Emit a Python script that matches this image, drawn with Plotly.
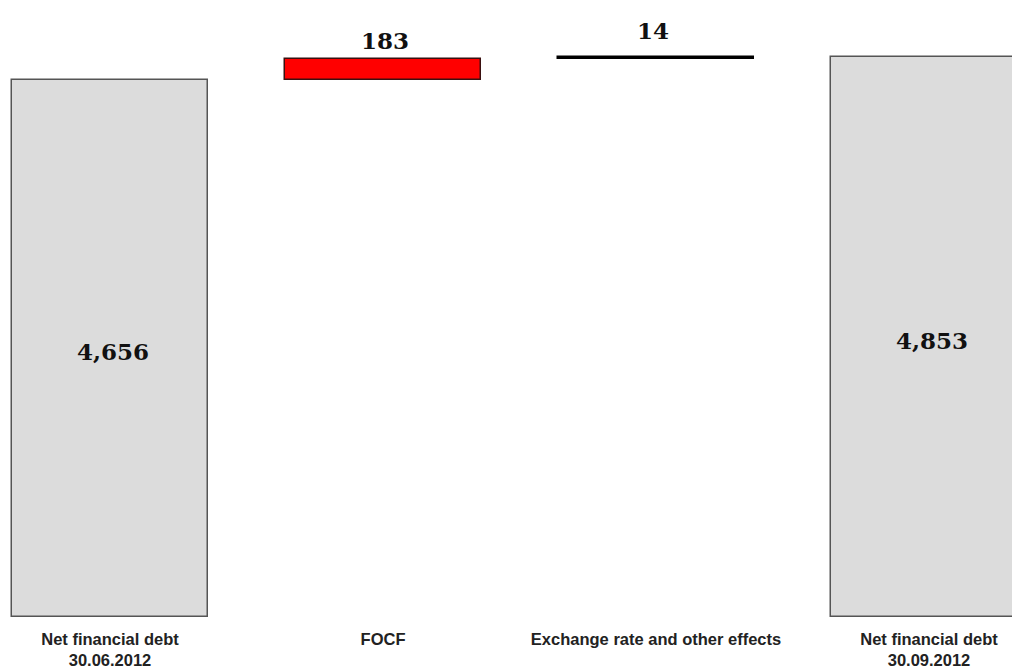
import plotly.graph_objects as go

# Net financial debt bridge (EUR m)
categories = ["Net financial debt<br>30.06.2012", "FOCF",
              "Exchange rate and other effects", "Net financial debt<br>30.09.2012"]
values = [4656, 183, 14, 4853]
labels = ["4,656", "183", "14", "4,853"]
kinds = ["total", "delta", "delta", "total"]

fill_colors = ["#dcdcdc", "#ff0000", "#000000", "#dcdcdc"]
line_colors = ["#555555", "#3a1010", "#000000", "#555555"]

# floating bases: totals start at zero, deltas sit on the running sum
bases = []
running = 0
for v, k in zip(values, kinds):
    if k == "total":
        bases.append(0)
        running = v
    else:
        bases.append(running)
        running += v

x = list(range(len(categories)))

fig = go.Figure()
fig.add_trace(go.Bar(
    x=x, y=values, base=bases, width=0.718,
    marker=dict(color=fill_colors, line=dict(color=line_colors, width=1.5)),
    hoverinfo="skip", showlegend=False,
))

value_font = dict(family="DejaVu Serif", size=23, color="#111111", weight="bold")
shifts = [0, 3, 11, 0]
for i, (v, b, k, t) in enumerate(zip(values, bases, kinds, labels)):
    if k == "total":
        fig.add_annotation(x=x[i], y=b + v / 2, text=t, showarrow=False,
                           font=value_font, yshift=-3, xshift=3)
    else:
        fig.add_annotation(x=x[i], y=b + v, text=t, showarrow=False,
                           font=value_font, yanchor="bottom", yshift=shifts[i],
                           xshift=-3 if i == 2 else 2)

ymax = 617 / 537 * 4656
fig.update_layout(
    width=1012, height=671,
    margin=dict(l=0, r=0, t=0, b=54),
    paper_bgcolor="white", plot_bgcolor="white",
    bargap=0,
    xaxis=dict(
        range=[-110 / 273, (1012 - 110) / 273],
        tickmode="array", tickvals=x, ticktext=categories,
        tickfont=dict(family="Liberation Sans", size=16.5, color="#222222", weight="bold"),
        showgrid=False, zeroline=False, showline=False, ticks="",
        ticklabelstandoff=10, automargin=False,
    ),
    yaxis=dict(range=[0, ymax], visible=False, showgrid=False, zeroline=False,
               automargin=False),
)

fig.write_html("out.html")
